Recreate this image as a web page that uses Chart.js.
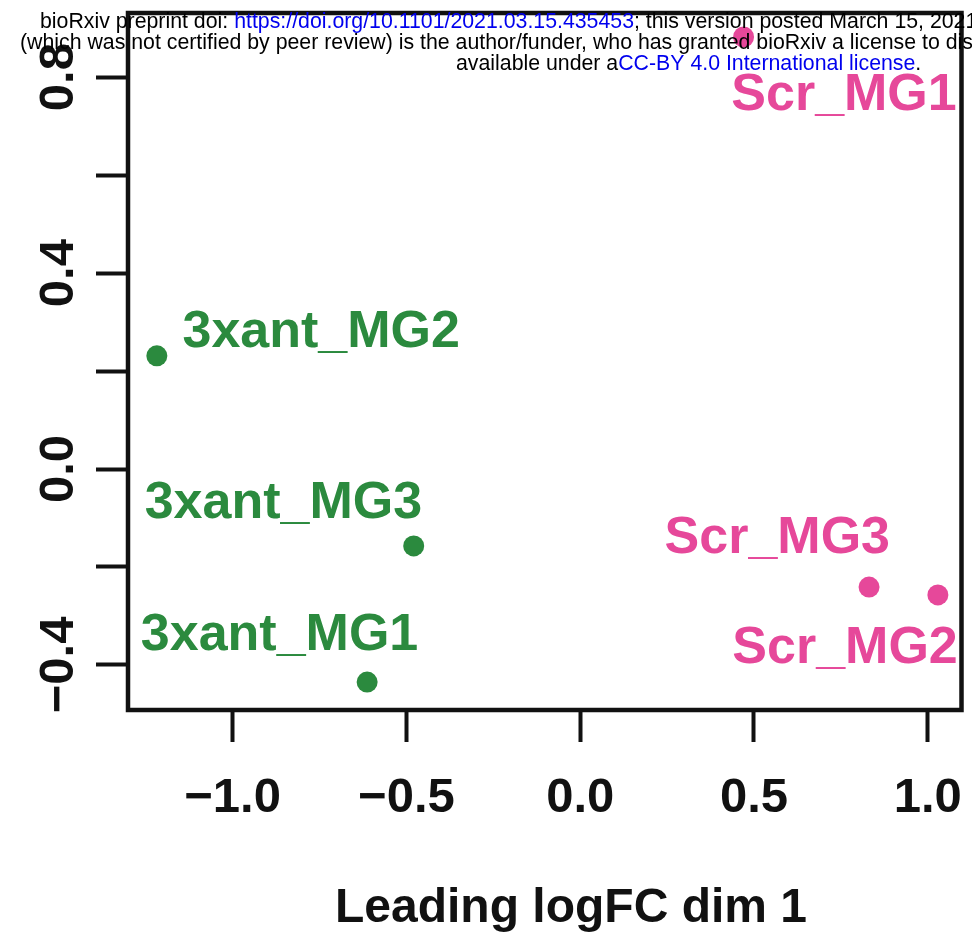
<!DOCTYPE html>
<html>
<head>
<meta charset="utf-8">
<script src="https://cdn.jsdelivr.net/npm/chart.js@4.4.1/dist/chart.umd.min.js"></script>
<style>
  html, body { margin: 0; padding: 0; background: #fff; }
  #wrap { width: 972px; height: 938px; position: relative; }
</style>
</head>
<body>
<div id="wrap"><canvas id="mds"></canvas></div>
<script>
// MDS coordinates (leading logFC dims 1 and 2) for each sample
const antSamples = ['3xant_MG1', '3xant_MG2', '3xant_MG3'];
const antDim1 = [-0.613, -1.218, -0.479];
const antDim2 = [-0.435, 0.231, -0.157];
// where each sample name is written (centre x, text baseline y), in data units
const antLabelX = [-0.865, -0.745, -0.854];
const antLabelY = [-0.369, 0.249, -0.100];

const scrSamples = ['Scr_MG1', 'Scr_MG2', 'Scr_MG3'];
const scrDim1 = [0.470, 1.029, 0.831];
const scrDim2 = [0.882, -0.257, -0.241];
const scrLabelX = [0.759, 0.762, 0.567];
const scrLabelY = [0.733, -0.396, -0.171];

const xTicks = [-1.0, -0.5, 0.0, 0.5, 1.0];
const yTicks = [-0.4, -0.2, 0.0, 0.2, 0.4, 0.6, 0.8];
const yTickLabels = [-0.4, 0.0, 0.4, 0.8];

const GREEN = '#2b8a3e';
const PINK = '#e6489a';
const FONT = "'Liberation Sans', Arial, Helvetica, sans-serif";

// R-style numbers with a real minus sign
const fmt = v => (v < 0 ? '\u2212' : '') + Math.abs(v).toFixed(1);

const toPoints = (xs, ys) => xs.map((x, i) => ({ x: x, y: ys[i] }));

// box, tick labels, sample names and the axis title
const rPlot = {
    id: 'rPlot',
    afterDraw(chart) {
        const ctx = chart.ctx;
        const area = chart.chartArea;
        const xs = chart.scales.x;
        const ys = chart.scales.y;
        ctx.save();

        ctx.strokeStyle = '#111';
        ctx.lineWidth = 4.5;
        ctx.strokeRect(area.left, area.top, area.right - area.left, area.bottom - area.top);

        ctx.fillStyle = '#111';
        ctx.font = 'bold 49px ' + FONT;
        ctx.textAlign = 'center';
        ctx.textBaseline = 'alphabetic';
        xTicks.forEach(v => {
            ctx.fillText(fmt(v), xs.getPixelForValue(v), 812);
        });

        yTickLabels.forEach(v => {
            ctx.save();
            ctx.translate(73, ys.getPixelForValue(v));
            ctx.rotate(-Math.PI / 2);
            ctx.fillText(fmt(v), 0, 0);
            ctx.restore();
        });

        ctx.font = 'bold 48px ' + FONT;
        ctx.fillText('Leading logFC dim 1', 571, 922);

        ctx.font = 'bold 52px ' + FONT;
        ctx.fillStyle = GREEN;
        antSamples.forEach((s, i) => {
            ctx.fillText(s, xs.getPixelForValue(antLabelX[i]), ys.getPixelForValue(antLabelY[i]));
        });
        ctx.fillStyle = PINK;
        scrSamples.forEach((s, i) => {
            ctx.fillText(s, xs.getPixelForValue(scrLabelX[i]), ys.getPixelForValue(scrLabelY[i]));
        });

        // preprint server stamp across the top
        ctx.font = '21.3px ' + FONT;
        ctx.textAlign = 'left';
        const runs = [
            [40, 28, [['bioRxiv preprint doi: ', '#000'], ['https://doi.org/10.1101/2021.03.15.435453', '#0000ee'], ['; this version posted March 15, 2021. The copyright holder for this preprint', '#000']]],
            [20, 49, [['(which was not certified by peer review) is the author/funder, who has granted bioRxiv a license to display the preprint in perpetuity. It is made', '#000']]],
            [456, 70, [['available under a', '#000'], ['CC-BY 4.0 International license', '#0000ee'], ['.', '#000']]]
        ];
        runs.forEach(([x0, y0, parts]) => {
            let x = x0;
            parts.forEach(([t, c]) => {
                ctx.fillStyle = c;
                ctx.fillText(t, x, y0);
                x += ctx.measureText(t).width;
            });
        });
        ctx.restore();
    }
};

const ctx = document.getElementById('mds').getContext('2d');
const mdsChart = new Chart(ctx, {
    type: 'scatter',
    data: {
        datasets: [{
            label: '3xant',
            data: toPoints(antDim1, antDim2),
            backgroundColor: GREEN,
            borderWidth: 0,
            pointRadius: 10.5,
        }, {
            label: 'Scr',
            data: toPoints(scrDim1, scrDim2),
            backgroundColor: PINK,
            borderWidth: 0,
            pointRadius: 10.5,
        }],
    },
    options: {
        responsive: true,
        maintainAspectRatio: false,
        animation: false,
        layout: { padding: { top: 13, right: 7, left: 0, bottom: 0 } },
        plugins: {
            legend: { display: false },
            tooltip: { enabled: false },
        },
        scales: {
            x: {
                type: 'linear',
                min: -1.301,
                max: 1.097,
                afterBuildTicks: s => { s.ticks = xTicks.map(v => ({ value: v })); },
                afterFit: s => { s.height = 228; },
                ticks: { display: false },
                border: { display: false },
                grid: {
                    drawOnChartArea: false,
                    drawTicks: true,
                    tickLength: 32,
                    tickWidth: 4,
                    tickColor: '#111',
                },
            },
            y: {
                type: 'linear',
                min: -0.492,
                max: 0.931,
                afterBuildTicks: s => { s.ticks = yTicks.map(v => ({ value: v })); },
                afterFit: s => { s.width = 128; },
                ticks: { display: false },
                border: { display: false },
                grid: {
                    drawOnChartArea: false,
                    drawTicks: true,
                    tickLength: 32,
                    tickWidth: 4,
                    tickColor: '#111',
                },
            },
        },
    },
    plugins: [rPlot],
});
</script>
</body>
</html>
